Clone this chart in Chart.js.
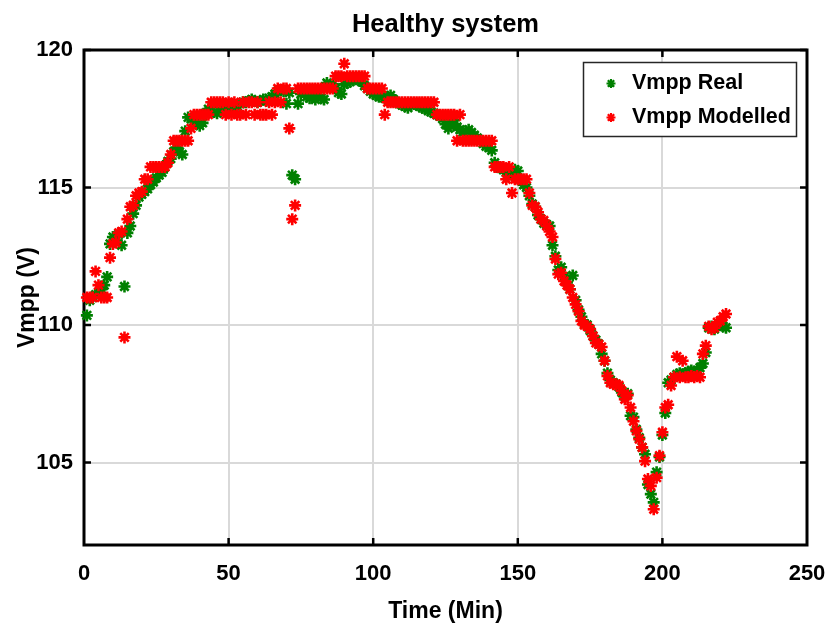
<!DOCTYPE html>
<html>
<head>
<meta charset="utf-8">
<title>Healthy system</title>
<script src="https://cdn.jsdelivr.net/npm/chart.js@4.4.1/dist/chart.umd.min.js"></script>
<style>
  html, body { margin: 0; padding: 0; background: #fff; }
  canvas { display: block; }
</style>
</head>
<body>
<canvas id="grafico" width="828" height="628"></canvas>
<script>
// Vmpp lido a cada minuto (1..222)
const vmppReal = [
  110.35, 110.9, 111.0, 111.1, 111.15, 111.3, 111.45, 111.75, 112.95, 113.2,
  113.1, 113.3, 112.9, 111.4, 113.35, 113.6, 114.05, 114.35, 114.65, 114.75,
  114.85, 114.95, 115.1, 115.2, 115.35, 115.45, 115.55, 115.75, 115.95, 116.05,
  116.3, 116.45, 116.3, 116.2, 117.05, 117.55, 117.5, 117.4, 117.3, 117.25,
  117.35, 117.7, 117.85, 117.8, 117.75, 117.7, 117.8, 117.9, 117.95, 117.9,
  117.85, 117.85, 117.95, 118.05, 118.1, 118.1, 118.15, 118.2, 118.15, 118.1,
  118.15, 118.2, 118.15, 118.25, 118.3, 118.4, 118.5, 118.55, 118.5, 118.05,
  118.45, 115.45, 115.3, 118.05, 118.4, 118.5, 118.3, 118.25, 118.3, 118.2,
  118.35, 118.25, 118.2, 118.8, 118.7, 118.75, 118.6, 118.45, 118.4, 118.75,
  118.8, 118.85, 118.9, 118.95, 118.9, 118.85, 118.7, 118.6, 118.5, 118.4,
  118.35, 118.3, 118.3, 118.25, 118.3, 118.35, 118.2, 118.1, 118.05, 118.0,
  117.95, 117.9, 118.0, 118.05, 118.0, 117.95, 117.9, 117.85, 117.8, 117.75,
  117.7, 117.65, 117.6, 117.5, 117.3, 117.15, 117.35, 117.45, 117.2, 117.1,
  117.0, 117.05, 117.1, 117.0, 116.9, 116.8, 116.7, 116.6, 116.5, 116.45,
  116.35, 115.9, 115.75, 115.7, 115.65, 115.55, 115.5, 115.45, 115.65, 115.6,
  115.3, 115.1, 115.0, 114.7, 114.4, 114.3, 114.0, 113.85, 113.7, 113.65,
  113.6, 112.9, 112.5, 112.0, 112.1, 111.75, 111.55, 111.3, 111.8, 110.9,
  110.55, 110.3, 110.05, 110.0, 109.8, 109.6, 109.45, 109.3, 108.95, 108.7,
  108.25, 108.0, 107.9, 107.85, 107.75, 107.55, 107.4, 107.5, 106.7, 106.65,
  106.2, 105.9, 105.55, 105.3, 104.2, 103.85, 103.55, 104.65, 105.2, 106.0,
  106.8, 107.9, 108.0, 108.1, 108.2, 108.25, 108.2, 108.25, 108.3, 108.35,
  108.3, 108.35, 108.45, 108.6, 109.0, 109.9, 109.95, 109.85, 109.95, 110.0,
  109.95, 109.9
];

const vmppModelado = [
  111.0, 111.0, 111.0, 111.95, 111.45, 111.0, 111.0, 111.0, 112.45, 112.95,
  113.0, 113.35, 113.4, 109.55, 113.85, 114.3, 114.35, 114.7, 114.8, 114.85,
  115.3, 115.3, 115.75, 115.75, 115.75, 115.75, 115.75, 115.75, 115.9, 116.2,
  116.7, 116.7, 116.7, 116.7, 116.7, 116.7, 117.15, 117.65, 117.65, 117.65,
  117.65, 117.65, 117.65, 118.1, 118.1, 118.1, 118.1, 118.1, 117.65, 118.1,
  117.65, 118.1, 117.65, 117.65, 118.1, 117.65, 118.1, 118.1, 117.65, 118.1,
  117.65, 117.65, 117.65, 118.1, 117.65, 118.1, 118.6, 118.1, 118.6, 118.6,
  117.15, 113.85, 114.35, 118.6, 118.6, 118.6, 118.6, 118.6, 118.6, 118.6,
  118.6, 118.6, 118.6, 118.6, 118.6, 118.6, 119.05, 119.05, 119.05, 119.5,
  119.05, 119.05, 119.05, 119.05, 119.05, 119.05, 119.05, 118.6, 118.6, 118.6,
  118.6, 118.6, 118.6, 117.65, 118.1, 118.1, 118.1, 118.1, 118.1, 118.1,
  118.1, 118.1, 118.1, 118.1, 118.1, 118.1, 118.1, 118.1, 118.1, 118.1,
  118.1, 117.65, 117.65, 117.65, 117.65, 117.65, 117.65, 117.65, 116.7, 117.65,
  116.7, 116.7, 116.7, 116.7, 116.7, 116.7, 116.7, 116.7, 116.7, 116.7,
  116.7, 115.75, 115.75, 115.75, 115.75, 115.3, 115.75, 114.8, 115.3, 115.3,
  115.3, 115.3, 115.3, 114.8, 114.35, 114.3, 114.1, 113.85, 113.8, 113.6,
  113.4, 113.2, 112.4, 111.85, 111.9, 111.6, 111.45, 111.3, 111.0, 110.75,
  110.5, 110.15, 110.0, 109.95, 109.85, 109.6, 109.35, 109.3, 109.2, 108.7,
  108.15, 107.9, 107.85, 107.85, 107.8, 107.6, 107.3, 107.45, 107.0, 106.5,
  106.15, 105.85, 105.55, 105.05, 104.4, 104.15, 103.3, 104.45, 105.25, 106.1,
  107.0, 107.1, 107.8, 108.1, 108.85, 108.1, 108.7, 108.1, 108.1, 108.15,
  108.1, 108.15, 108.1, 108.95, 109.25, 109.95, 109.85, 109.9, 110.1, 110.15,
  110.3, 110.4
];

// minutos de amostragem
const minutos = vmppReal.map((_, i) => i + 1);

const xTicks = [0, 50, 100, 150, 200, 250];
const yTicks = [105, 110, 115, 120];

const rotulos = ["Vmpp Real", "Vmpp Modelled"];
const cores = ["#008000", "#ff0000"];

const fonte = "'Liberation Sans', Arial, sans-serif";

// Moldura estilo MATLAB: caixa, marcas internas, título e legenda
const moldura = {
  id: "moldura",
  beforeDatasetsDraw(chart) {
    const { ctx, chartArea: a, scales } = chart;
    ctx.save();
    ctx.strokeStyle = "#000";
    ctx.lineWidth = 2.5;
    ctx.beginPath();
    xTicks.slice(1, -1).forEach(v => {
      const px = scales.x.getPixelForValue(v);
      ctx.moveTo(px, a.bottom); ctx.lineTo(px, a.bottom - 7);
      ctx.moveTo(px, a.top); ctx.lineTo(px, a.top + 7);
    });
    yTicks.forEach(v => {
      const py = scales.y.getPixelForValue(v);
      ctx.moveTo(a.left, py); ctx.lineTo(a.left + 7, py);
      ctx.moveTo(a.right, py); ctx.lineTo(a.right - 7, py);
    });
    ctx.stroke();
    ctx.lineWidth = 3;
    ctx.strokeRect(a.left, a.top, a.right - a.left, a.bottom - a.top);
    ctx.restore();
  },
  afterDraw(chart) {
    const { ctx, chartArea: a } = chart;
    ctx.save();
    // título
    ctx.fillStyle = "#000";
    ctx.font = "bold 25.5px " + fonte;
    ctx.textAlign = "center";
    ctx.textBaseline = "middle";
    ctx.fillText("Healthy system", (a.left + a.right) / 2, 25);

    // legenda
    const lx = 583.5, ly = 62.5, lw = 213, lh = 74;
    ctx.fillStyle = "#fff";
    ctx.fillRect(lx, ly, lw, lh);
    ctx.strokeStyle = "#262626";
    ctx.lineWidth = 1.5;
    ctx.strokeRect(lx, ly, lw, lh);
    const linhas = [83.5, 117.5];
    rotulos.forEach((txt, i) => {
      const cx = 611, cy = linhas[i], r = 4.5;
      ctx.strokeStyle = cores[i];
      ctx.lineWidth = 2.2;
      ctx.beginPath();
      ctx.moveTo(cx - r, cy); ctx.lineTo(cx + r, cy);
      ctx.moveTo(cx, cy - r); ctx.lineTo(cx, cy + r);
      const d = r * Math.SQRT1_2;
      ctx.moveTo(cx - d, cy - d); ctx.lineTo(cx + d, cy + d);
      ctx.moveTo(cx - d, cy + d); ctx.lineTo(cx + d, cy - d);
      ctx.stroke();
      ctx.fillStyle = "#000";
      ctx.font = "bold 21.5px " + fonte;
      ctx.textAlign = "left";
      ctx.textBaseline = "middle";
      ctx.fillText(txt, 632, cy);
    });
    ctx.restore();
  }
};

function serie(valores) {
  return minutos.map((t, i) => ({ x: t, y: valores[i] }));
}

const ctx = document.getElementById("grafico").getContext("2d");

new Chart(ctx, {
  type: "scatter",
  data: {
    datasets: [
      {
        label: rotulos[0],
        data: serie(vmppReal),
        borderColor: cores[0],
        backgroundColor: cores[0],
        pointBorderColor: cores[0],
        pointStyle: "star",
        pointRadius: 6,
        pointBorderWidth: 2.6,
        order: 2,
        clip: false
      },
      {
        label: rotulos[1],
        data: serie(vmppModelado),
        borderColor: cores[1],
        backgroundColor: cores[1],
        pointBorderColor: cores[1],
        pointStyle: "star",
        pointRadius: 6,
        pointBorderWidth: 2.6,
        order: 1,
        clip: false
      }
    ]
  },
  options: {
    responsive: false,
    animation: false,
    devicePixelRatio: 1,
    layout: { padding: { top: 50, right: 21, left: 0, bottom: 0 } },
    plugins: {
      legend: { display: false },
      tooltip: { enabled: false },
      title: { display: false }
    },
    scales: {
      x: {
        type: "linear",
        min: 0,
        max: 250,
        afterBuildTicks: s => { s.ticks = xTicks.map(v => ({ value: v })); },
        afterFit: s => {
          s.height = 83;
          s.paddingLeft = 0;
          s.paddingRight = 0;
        },
        grid: { color: "#d9d9d9", lineWidth: 2, drawTicks: false },
        border: { display: false },
        ticks: {
          color: "#000",
          padding: 16,
          maxRotation: 0,
          font: { family: fonte, size: 22, weight: "bold" }
        },
        title: {
          display: true,
          text: "Time (Min)",
          color: "#000",
          padding: { top: 0, bottom: 3 },
          font: { family: fonte, size: 23, weight: "bold" }
        }
      },
      y: {
        type: "linear",
        min: 102,
        max: 120,
        afterBuildTicks: s => { s.ticks = yTicks.map(v => ({ value: v })); },
        afterFit: s => {
          s.width = 84;
          s.paddingTop = 0;
          s.paddingBottom = 0;
        },
        grid: { color: "#d9d9d9", lineWidth: 2, drawTicks: false },
        border: { display: false },
        ticks: {
          color: "#000",
          padding: 11,
          font: { family: fonte, size: 22, weight: "bold" }
        },
        title: {
          display: true,
          text: "Vmpp (V)",
          color: "#000",
          padding: { top: 14, bottom: 0 },
          font: { family: fonte, size: 23, weight: "bold" }
        }
      }
    }
  },
  plugins: [moldura]
});
</script>
</body>
</html>
